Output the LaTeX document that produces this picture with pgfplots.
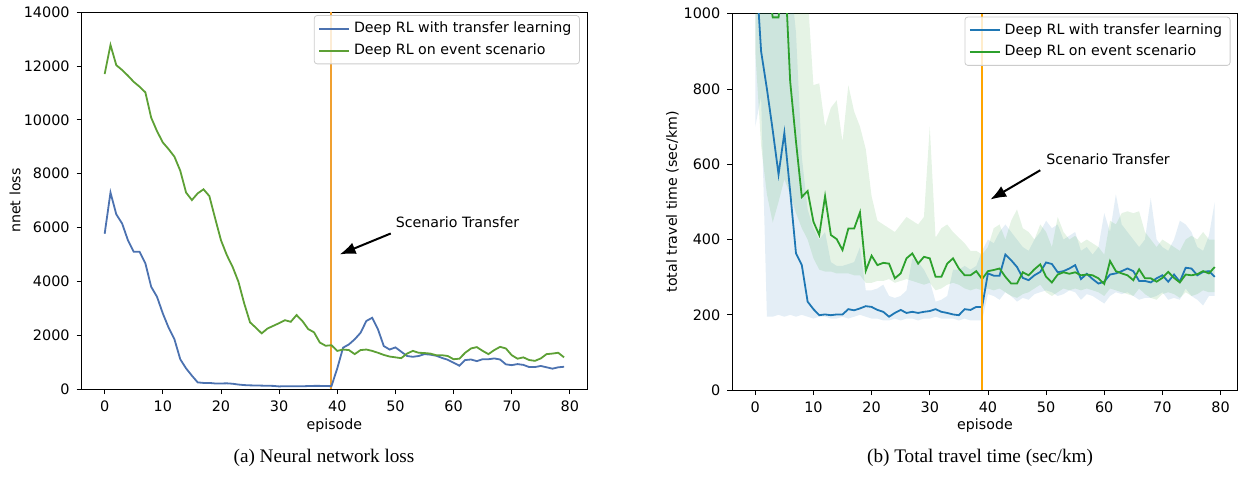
\documentclass[border=0pt]{standalone}
\usepackage{fontspec}
\setmainfont{DejaVu Sans}
\newfontfamily\capfont{Liberation Serif}
\usepackage{pgfplots}
\usepackage{pgfplotstable}
\pgfplotsset{compat=1.18}
\usepgfplotslibrary{fillbetween}
\usetikzlibrary{arrows.meta}

\definecolor{lblue}{RGB}{76,114,176}
\definecolor{lgreen}{RGB}{93,160,53}
\definecolor{vlineA}{RGB}{240,160,48}
\definecolor{tblue}{RGB}{31,119,180}
\definecolor{tgreen}{RGB}{44,160,44}
\definecolor{vlineB}{RGB}{255,165,0}

\pgfplotstableread{
ep tl ev
0 5770 11700
1 7300 12780
2 6490 12030
3 6150 11850
4 5530 11640
5 5100 11410
6 5100 11230
7 4670 11020
8 3800 10080
9 3430 9580
10 2810 9160
11 2280 8910
12 1850 8630
13 1110 8110
14 770 7300
15 500 7020
16 250 7270
17 230 7420
18 230 7170
19 210 6340
20 210 5530
21 215 4980
22 200 4540
23 170 3990
24 150 3180
25 140 2480
26 135 2280
27 130 2070
28 125 2250
29 120 2350
30 100 2450
31 110 2560
32 110 2500
33 110 2750
34 105 2530
35 115 2230
36 120 2110
37 120 1730
38 115 1610
39 110 1630
40 770 1420
41 1540 1470
42 1660 1450
43 1850 1300
44 2090 1450
45 2530 1470
46 2650 1420
47 2220 1350
48 1600 1270
49 1470 1210
50 1550 1180
51 1390 1150
52 1230 1320
53 1200 1420
54 1230 1350
55 1300 1340
56 1280 1320
57 1240 1260
58 1160 1260
59 1090 1230
60 980 1110
61 870 1130
62 1080 1350
63 1100 1510
64 1040 1560
65 1110 1420
66 1110 1300
67 1140 1450
68 1100 1570
69 920 1510
70 890 1260
71 930 1130
72 900 1180
73 820 1080
74 820 1050
75 860 1140
76 810 1300
77 760 1320
78 810 1350
79 830 1180
}\ltab

\pgfplotstableread{
ep tb tbl tbu ev evl evu
0 1150 700 1300 1300 900 1300
1 900 780 1300 1200 650 1300
2 800 195 1300 1100 520 1300
3 690 195 1300 990 445 1300
4 573 200 1300 990 500 1300
5 683 195 1200 1150 560 1300
6 527 200 1100 820 520 1300
7 363 195 950 660 470 1300
8 332 200 620 513 430 1200
9 235 195 480 529 400 1050
10 215 190 430 447 350 810
11 199 195 400 412 320 815
12 201 195 420 515 315 700
13 199 190 340 412 315 750
14 201 190 330 401 310 770
15 201 195 330 372 310 660
16 215 190 335 429 310 810
17 212 195 340 429 305 740
18 217 200 380 472 305 700
19 223 195 265 317 285 640
20 221 190 265 357 285 515
21 213 190 270 332 290 450
22 208 185 280 338 290 440
23 195 185 250 336 295 430
24 205 190 245 297 285 420
25 213 185 250 310 290 440
26 205 190 265 350 295 460
27 208 190 350 363 290 450
28 205 185 340 336 285 440
29 208 190 320 354 280 460
30 210 190 290 350 285 700
31 215 195 235 301 265 405
32 208 190 240 301 270 430
33 205 190 250 336 280 440
34 201 190 320 350 285 420
35 199 185 320 323 280 405
36 215 190 330 305 270 390
37 213 185 320 305 265 370
38 221 185 330 316 270 370
39 221 185 370 295 265 360
40 310 255 400 316 270 380
41 304 250 390 319 265 430
42 304 240 420 323 270 440
43 360 260 440 301 260 400
44 345 250 420 283 250 450
45 327 235 400 283 245 480
46 298 245 380 313 255 430
47 292 240 370 305 260 420
48 305 255 400 321 270 400
49 314 260 420 334 280 440
50 339 265 450 301 260 420
51 335 260 430 286 250 380
52 313 250 440 307 260 460
53 316 255 400 313 270 420
54 323 265 410 309 265 400
55 332 260 420 313 270 410
56 295 240 370 305 265 390
57 309 255 380 307 270 400
58 295 250 360 305 265 390
59 283 240 380 297 260 380
60 288 230 470 282 250 360
61 307 250 420 343 270 450
62 310 260 520 316 265 440
63 316 255 440 310 260 470
64 323 260 420 305 255 475
65 316 250 400 292 250 470
66 290 240 380 321 270 475
67 290 245 400 297 255 420
68 286 245 510 297 245 400
69 297 250 400 288 240 380
70 305 260 380 298 255 400
71 288 240 370 314 260 390
72 307 245 400 298 255 380
73 288 240 450 286 245 370
74 325 270 440 307 260 400
75 323 250 420 305 250 410
76 305 240 380 308 255 400
77 314 225 370 316 265 420
78 316 250 410 310 260 400
79 301 250 500 327 260 400
}\rtab

\pgfplotsset{
  myax/.style={
    scale only axis,
    xmin=-3.95, xmax=82.95,
    xtick={0,10,...,80},
    tick align=outside, tick pos=left,
    major tick length=2.5pt,
    every tick/.style={black, line width=0.4pt},
    axis line style={black, line width=0.5pt},
    font=\fontsize{7.1}{8}\selectfont,
    ticklabel style={font=\fontsize{7.2}{8}\selectfont},
    /pgf/number format/assume math mode=true,
    /pgf/number format/1000 sep={},
    scaled ticks=false,
    xlabel={episode},
    legend cell align=left,
    legend image code/.code={\draw[#1] (0pt,0pt) -- (15pt,0pt);},
    legend style={at={(1,1)}, anchor=north east, xshift=-3.6pt, yshift=-1.5pt,
      draw=black!20, rounded corners=1.5pt, fill=white, fill opacity=0.8, text opacity=1,
      font=\fontsize{7.1}{8}\selectfont, inner xsep=2pt, inner ysep=1.2pt,
      row sep=0pt},
  }
}

\begin{document}
\begin{tikzpicture}
\path (0,0) rectangle (622.5pt,235.5pt);

% ---------- (a) ----------
\begin{axis}[myax,
  at={(40.85pt,43.5pt)}, anchor=south west,
  width=252.65pt, height=188.5pt,
  ymin=0, ymax=14000, ytick={0,2000,...,14000},
  ylabel={nnet loss},
  xlabel style={at={(axis description cs:0.5,-0.0955)}, anchor=center},
  ylabel style={at={(axis description cs:-0.132,0.5)}, anchor=center},
]
\addplot[draw=vlineA, line width=1pt, opacity=1, forget plot] coordinates {(39,0) (39,14000)};
\addplot[color=lblue, line width=0.9pt] table[x=ep, y=tl] {\ltab};
\addlegendentry{Deep RL with transfer learning}
\addplot[color=lgreen, line width=0.9pt] table[x=ep, y=ev] {\ltab};
\addlegendentry{Deep RL on event scenario}
\draw[line width=1pt, -{Latex[length=8pt,width=6pt]}] (axis cs:49.2,5780) -- (axis cs:40.4,5000);
\node[anchor=base west, inner sep=0pt, font=\fontsize{7.1}{8}\selectfont] at (axis cs:50,6000) {Scenario Transfer};
\end{axis}

% ---------- (b) ----------
\begin{axis}[myax,
  at={(366.15pt,43pt)}, anchor=south west,
  width=252.7pt, height=188.25pt,
  ymin=0, ymax=1000, ytick={0,200,...,1000},
  ylabel={total travel time (sec/km)},
  xlabel style={at={(axis description cs:0.5,-0.093)}, anchor=center},
  ylabel style={at={(axis description cs:-0.1187,0.5)}, anchor=center},
]
\addplot[draw=none, name path=bl, forget plot] table[x=ep, y=tbl] {\rtab};
\addplot[draw=none, name path=bu, forget plot] table[x=ep, y=tbu] {\rtab};
\addplot[tblue, fill opacity=0.12, draw=none, forget plot] fill between[of=bl and bu];
\addplot[draw=none, name path=gl, forget plot] table[x=ep, y=evl] {\rtab};
\addplot[draw=none, name path=gu, forget plot] table[x=ep, y=evu] {\rtab};
\addplot[tgreen, fill opacity=0.12, draw=none, forget plot] fill between[of=gl and gu];
\addplot[color=tblue, line width=0.9pt] table[x=ep, y=tb] {\rtab};
\addlegendentry{Deep RL with transfer learning}
\addplot[color=tgreen, line width=0.9pt] table[x=ep, y=ev] {\rtab};
\addlegendentry{Deep RL on event scenario}
\addplot[draw=vlineB, line width=1pt, forget plot] coordinates {(39,0) (39,1000)};
\draw[line width=1pt, -{Latex[length=8pt,width=6pt]}] (axis cs:49.0,584) -- (axis cs:40.4,506);
\node[anchor=base west, inner sep=0pt, font=\fontsize{7.1}{8}\selectfont] at (axis cs:50,600) {Scenario Transfer};
\end{axis}

\node[anchor=base, font=\capfont\fontsize{9.6}{11}\selectfont] at (162pt,6.8pt) {(a) Neural network loss};
\node[anchor=base, font=\capfont\fontsize{9.6}{11}\selectfont] at (490pt,6.8pt) {(b) Total travel time (sec/km)};
\end{tikzpicture}
\end{document}
